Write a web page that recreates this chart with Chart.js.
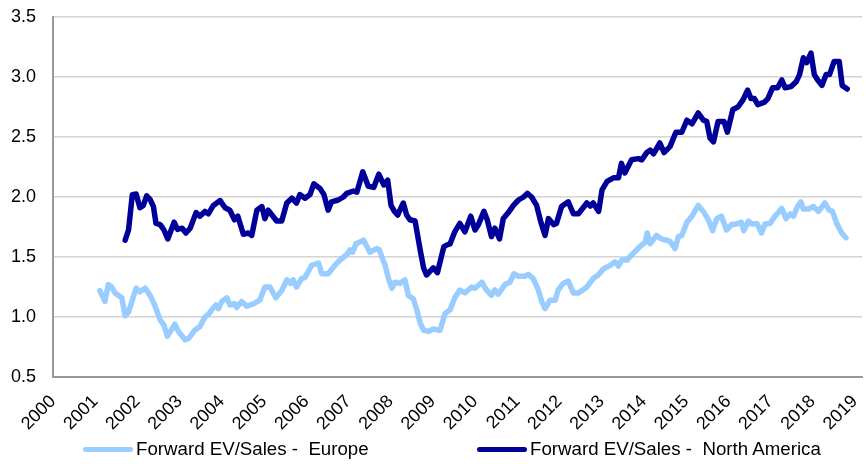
<!DOCTYPE html>
<html>
<head>
<meta charset="utf-8">
<script src="https://cdn.jsdelivr.net/npm/chart.js@4.4.0/dist/chart.umd.min.js"></script>
<style>
  html, body { margin: 0; padding: 0; background: #fff; }
  #wrap { position: relative; width: 866px; height: 464px; }
  #legend { position: absolute; left: 0; top: 0; width: 866px; height: 464px; pointer-events: none;
            font-family: "Liberation Sans", Arial, sans-serif; font-size: 18.7px; color: #000; }
  .item { position: absolute; top: 438px; height: 22px; display: flex; align-items: center; white-space: pre; }
  .swatch { width: 50px; height: 5px; border-radius: 3px; margin-right: 3px; }
</style>
</head>
<body>
<div id="wrap">
  <canvas id="c"></canvas>
  <div id="legend"></div>
</div>
<script>
// ---- Data (decimal years) ----
const seriesNames = ["Forward EV/Sales -  Europe", "Forward EV/Sales -  North America"];
const seriesColors = ["#99CCFF", "#000099"];

const euYears = [2001.11,2001.23,2001.31,2001.39,2001.47,2001.63,2001.71,2001.79,2001.97,2002.06,2002.18,2002.30,2002.42,2002.54,2002.63,2002.71,2002.89,2002.97,2003.13,2003.21,2003.36,2003.48,2003.60,2003.68,2003.76,2003.86,2003.92,2004.00,2004.12,2004.19,2004.31,2004.35,2004.47,2004.59,2004.75,2004.90,2005.02,2005.14,2005.28,2005.42,2005.54,2005.63,2005.69,2005.77,2005.89,2005.97,2006.13,2006.29,2006.37,2006.52,2006.68,2006.80,2006.96,2007.04,2007.10,2007.18,2007.36,2007.51,2007.67,2007.73,2007.87,2007.95,2008.03,2008.10,2008.22,2008.34,2008.42,2008.54,2008.62,2008.70,2008.78,2008.90,2009.01,2009.17,2009.29,2009.41,2009.52,2009.64,2009.76,2009.92,2010.00,2010.16,2010.26,2010.39,2010.47,2010.55,2010.71,2010.83,2010.92,2011.03,2011.18,2011.26,2011.38,2011.50,2011.58,2011.66,2011.78,2011.90,2011.97,2012.09,2012.21,2012.33,2012.45,2012.65,2012.80,2012.92,2013.04,2013.20,2013.32,2013.40,2013.48,2013.60,2013.72,2013.83,2013.95,2014.03,2014.08,2014.15,2014.30,2014.42,2014.54,2014.62,2014.74,2014.82,2014.90,2015.02,2015.14,2015.29,2015.41,2015.53,2015.63,2015.73,2015.84,2015.96,2016.08,2016.20,2016.31,2016.37,2016.48,2016.56,2016.68,2016.79,2016.87,2016.99,2017.11,2017.23,2017.27,2017.37,2017.47,2017.55,2017.64,2017.72,2017.78,2017.90,2018.02,2018.14,2018.29,2018.39,2018.47,2018.57,2018.69,2018.79];
const euValues = [1.22,1.13,1.27,1.25,1.20,1.16,1.01,1.04,1.24,1.21,1.24,1.18,1.09,0.975,0.93,0.84,0.94,0.88,0.81,0.82,0.89,0.92,1.00,1.02,1.06,1.10,1.07,1.13,1.16,1.10,1.11,1.08,1.13,1.09,1.11,1.14,1.25,1.25,1.16,1.22,1.31,1.28,1.31,1.25,1.32,1.33,1.43,1.45,1.36,1.36,1.43,1.475,1.52,1.56,1.54,1.61,1.64,1.54,1.57,1.56,1.43,1.32,1.24,1.29,1.28,1.31,1.18,1.15,1.06,0.95,0.89,0.88,0.90,0.89,1.03,1.06,1.16,1.225,1.20,1.25,1.24,1.29,1.23,1.18,1.225,1.19,1.27,1.29,1.36,1.34,1.34,1.355,1.32,1.225,1.13,1.07,1.14,1.14,1.225,1.28,1.30,1.20,1.20,1.25,1.32,1.35,1.40,1.43,1.46,1.425,1.475,1.475,1.52,1.56,1.60,1.62,1.70,1.61,1.68,1.65,1.64,1.63,1.57,1.67,1.68,1.79,1.84,1.93,1.88,1.81,1.72,1.82,1.84,1.725,1.77,1.775,1.79,1.72,1.80,1.775,1.78,1.70,1.775,1.78,1.84,1.89,1.905,1.82,1.86,1.84,1.92,1.96,1.90,1.90,1.92,1.88,1.95,1.89,1.88,1.78,1.70,1.66];

const naYears = [2001.71,2001.79,2001.88,2001.97,2002.06,2002.14,2002.22,2002.30,2002.38,2002.44,2002.54,2002.63,2002.72,2002.87,2002.95,2003.06,2003.15,2003.25,2003.39,2003.48,2003.60,2003.68,2003.80,2003.96,2004.08,2004.19,2004.30,2004.38,2004.51,2004.63,2004.71,2004.83,2004.95,2005.02,2005.10,2005.30,2005.42,2005.54,2005.66,2005.77,2005.85,2005.97,2006.09,2006.18,2006.33,2006.42,2006.52,2006.60,2006.76,2006.88,2006.96,2007.12,2007.20,2007.34,2007.47,2007.60,2007.72,2007.84,2007.93,2008.01,2008.09,2008.17,2008.22,2008.30,2008.38,2008.46,2008.58,2008.70,2008.78,2008.85,2009.01,2009.11,2009.26,2009.33,2009.41,2009.52,2009.64,2009.76,2009.90,2010.00,2010.08,2010.21,2010.29,2010.39,2010.47,2010.58,2010.67,2010.79,2010.91,2011.03,2011.15,2011.24,2011.34,2011.46,2011.56,2011.66,2011.74,2011.86,2011.93,2012.05,2012.21,2012.33,2012.45,2012.65,2012.73,2012.80,2012.93,2013.01,2013.13,2013.28,2013.40,2013.47,2013.55,2013.71,2013.87,2013.95,2014.07,2014.15,2014.23,2014.38,2014.48,2014.62,2014.76,2014.90,2015.02,2015.14,2015.29,2015.41,2015.49,2015.57,2015.65,2015.76,2015.90,2015.98,2016.11,2016.23,2016.35,2016.46,2016.54,2016.62,2016.70,2016.86,2016.94,2017.05,2017.17,2017.27,2017.35,2017.49,2017.61,2017.69,2017.78,2017.86,2017.96,2018.04,2018.12,2018.22,2018.32,2018.40,2018.51,2018.63,2018.70,2018.82];
const naValues = [1.64,1.725,2.02,2.025,1.91,1.93,2.01,1.98,1.92,1.78,1.77,1.725,1.65,1.79,1.73,1.74,1.70,1.74,1.87,1.84,1.88,1.86,1.93,1.97,1.91,1.89,1.81,1.84,1.69,1.70,1.68,1.89,1.92,1.82,1.89,1.80,1.80,1.95,1.99,1.95,2.02,1.99,2.02,2.11,2.07,2.02,1.89,1.96,1.975,2.00,2.03,2.05,2.04,2.21,2.09,2.08,2.19,2.10,2.14,1.93,1.88,1.85,1.89,1.95,1.85,1.81,1.80,1.56,1.41,1.35,1.41,1.37,1.585,1.60,1.61,1.71,1.78,1.71,1.84,1.725,1.77,1.88,1.81,1.67,1.74,1.65,1.82,1.87,1.93,1.975,2.00,2.03,2.00,1.93,1.79,1.68,1.82,1.77,1.78,1.92,1.96,1.86,1.86,1.95,1.925,1.95,1.88,2.06,2.13,2.16,2.16,2.28,2.20,2.31,2.32,2.31,2.37,2.39,2.36,2.45,2.37,2.42,2.54,2.54,2.64,2.61,2.70,2.64,2.63,2.49,2.46,2.63,2.63,2.54,2.73,2.75,2.81,2.89,2.82,2.82,2.77,2.79,2.82,2.91,2.91,2.975,2.91,2.92,2.96,3.02,3.16,3.12,3.20,3.02,2.975,2.93,3.02,3.02,3.13,3.13,2.93,2.90];

const yearLabels = ["2000","2001","2002","2003","2004","2005","2006","2007","2008","2009","2010","2011","2012","2013","2014","2015","2016","2017","2018","2019"];
const yTickLabels = ["0.5","1.0","1.5","2.0","2.5","3.0","3.5"];

// ---- Chart ----
const FONT = "'Liberation Sans', Arial, sans-serif";
const toPoints = (xs, ys) => xs.map((x, i) => ({ x: x, y: ys[i] }));

const chart = new Chart(document.getElementById('c'), {
  type: 'line',
  data: {
    datasets: [
      { label: seriesNames[0], data: toPoints(euYears, euValues), borderColor: seriesColors[0], backgroundColor: seriesColors[0],
        borderWidth: 5.5, pointRadius: 0, tension: 0, borderJoinStyle: 'round', borderCapStyle: 'round' },
      { label: seriesNames[1], data: toPoints(naYears, naValues), borderColor: seriesColors[1], backgroundColor: seriesColors[1],
        borderWidth: 5.5, pointRadius: 0, tension: 0, borderJoinStyle: 'round', borderCapStyle: 'round' }
    ]
  },
  options: {
    responsive: true,
    maintainAspectRatio: false,
    animation: false,
    events: [],
    layout: { padding: { top: 17, right: 4, left: 0, bottom: 0 }, autoPadding: false },
    plugins: { legend: { display: false }, tooltip: { enabled: false } },
    scales: {
      x: {
        type: 'linear',
        min: 2000, max: 2019.17,
        afterFit: (s) => { s.height = 87; s.paddingLeft = 0; s.paddingRight = 0; },
        afterBuildTicks: (s) => { s.ticks = yearLabels.map(l => ({ value: Number(l) })); },
        ticks: {
          autoSkip: false, minRotation: 45, maxRotation: 45, padding: 14,
          color: '#000', font: { family: FONT, size: 18 },
          callback: (v, i) => yearLabels[i]
        },
        grid: { display: false, drawTicks: false },
        border: { display: true, color: '#999999', width: 2 }
      },
      y: {
        min: 0.5, max: 3.5,
        afterFit: (s) => { s.width = 53; s.paddingTop = 0; s.paddingBottom = 0; },
        afterBuildTicks: (s) => { s.ticks = yTickLabels.map(l => ({ value: Number(l) })); },
        ticks: {
          padding: 17, color: '#000', font: { family: FONT, size: 18 },
          callback: (v, i) => yTickLabels[i]
        },
        grid: { color: '#D4D4D4', lineWidth: 1.5, drawTicks: false },
        border: { display: true, color: '#999999', width: 2 }
      }
    }
  }
});

// ---- Legend (HTML) ----
const legendLeft = [83, 477];
const legend = document.getElementById('legend');
seriesNames.forEach((name, i) => {
  const item = document.createElement('div');
  item.className = 'item';
  item.style.left = legendLeft[i] + 'px';
  const sw = document.createElement('span');
  sw.className = 'swatch';
  sw.style.background = seriesColors[i];
  const tx = document.createElement('span');
  tx.textContent = name;
  item.appendChild(sw);
  item.appendChild(tx);
  legend.appendChild(item);
});
</script>
</body>
</html>
